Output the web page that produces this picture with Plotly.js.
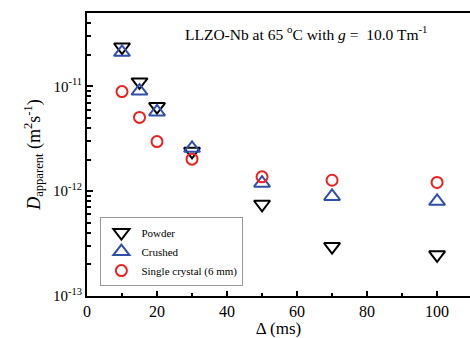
<!DOCTYPE html>
<html><head><meta charset="utf-8">
<script src="https://cdn.plot.ly/plotly-3.0.1.min.js"></script>
<style>html,body{margin:0;padding:0;background:#fff}#plot{width:470px;height:338px}</style>
</head><body><div id="plot"></div>
<script>
const delta = [10, 15, 20, 30, 50, 70, 100];
const powder = [2.37e-11, 1.1e-11, 6.4e-12, 2.4e-12, 7.5e-13, 2.96e-13, 2.47e-13];
const crushed = [2.11e-11, 9.0e-12, 5.7e-12, 2.56e-12, 1.19e-12, 8.9e-13, 8.0e-13];
const single = [8.9e-12, 5.05e-12, 2.97e-12, 2.02e-12, 1.37e-12, 1.27e-12, 1.21e-12];
const names = ["Powder", "Crushed", "Single crystal (6 mm)"];
const yTickVals = [1e-13, 1e-12, 1e-11];
const yTickText = ["10<sup>-13</sup>", "10<sup>-12</sup>", "10<sup>-11</sup>"];

const font = "Liberation Serif, Times New Roman, serif";
const traces = [
  {x: delta, y: powder, name: names[0], mode: "markers", type: "scatter",
   marker: {symbol: "triangle-down-open", size: 14, color: "#000", line: {width: 2, color: "#000"}}},
  {x: delta, y: crushed, name: names[1], mode: "markers", type: "scatter",
   marker: {symbol: "triangle-up-open", size: 14, color: "#3050a8", line: {width: 2, color: "#3050a8"}}},
  {x: delta, y: single, name: names[2], mode: "markers", type: "scatter",
   marker: {symbol: "circle-open", size: 11, color: "#ee2020", line: {width: 2, color: "#ee2020"}}}
];
const layout = {
  width: 470, height: 338,
  margin: {l: 87, r: 0, t: 13, b: 42},
  paper_bgcolor: "#fff", plot_bgcolor: "#fff",
  font: {family: font, color: "#000", size: 15},
  showlegend: true,
  legend: {x: 0.035, y: 0.035, xanchor: "left", yanchor: "bottom",
           bgcolor: "#fff", bordercolor: "#999", borderwidth: 1,
           font: {family: font, size: 11}, tracegroupgap: 0, itemwidth: 30},
  xaxis: {range: [0, 109.4], showline: true, linecolor: "#000", linewidth: 2,
          mirror: true, ticks: "inside", ticklen: 5, tickwidth: 1.5, tickcolor: "#000",
          dtick: 20, tick0: 0, showgrid: false, zeroline: false,
          minor: {dtick: 10, ticks: "inside", ticklen: 3, tickcolor: "#000"},
          tickfont: {size: 16, family: font},
          title: {text: "\u0394 (ms)", font: {size: 17, family: font}, standoff: 2}},
  yaxis: {type: "log", range: [-13, Math.log10(5e-11)], showline: true, linecolor: "#000",
          linewidth: 2, mirror: false, ticks: "inside", ticklen: 6, tickwidth: 1.5, tickcolor: "#000",
          tickmode: "array", tickvals: yTickVals, ticktext: yTickText,
          minor: {dtick: "D1", ticks: "inside", ticklen: 4, tickcolor: "#000"},
          showgrid: false, zeroline: false,
          tickfont: {size: 15, family: font},
          title: {text: "<i>D</i><sub>apparent</sub> (m<sup>2</sup>s<sup>-1</sup>)", font: {size: 18, family: font}, standoff: 8}},
  annotations: [{xref: "paper", yref: "paper", x: 0.25, y: 0.93, xanchor: "left", yanchor: "middle",
     showarrow: false, text: "LLZO-Nb at 65 <sup>o</sup>C with <i>g</i> =  10.0 Tm<sup>-1</sup>",
     font: {size: 15.5, family: font}}]
};
Plotly.newPlot("plot", traces, layout, {displayModeBar: false});
</script></body></html>
